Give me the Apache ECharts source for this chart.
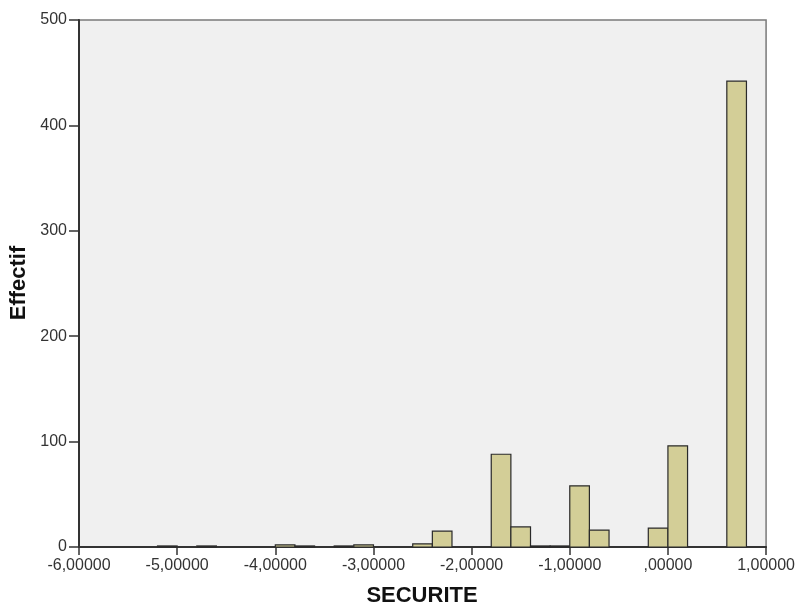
<!DOCTYPE html>
<html>
<head>
<meta charset="utf-8">
<script src="https://cdn.jsdelivr.net/npm/echarts@6/dist/echarts.min.js"></script>
<style>html,body{margin:0;padding:0;background:#fff}#c{width:798px;height:605px}</style>
</head>
<body>
<div id="c"></div>
<script>
var binLow  = [-5.2, -4.8, -4.0, -3.8, -3.4, -3.2, -2.6, -2.4, -1.8, -1.6, -1.4, -1.2, -1.0, -0.8, -0.2, 0.0, 0.6];
var binHigh = [-5.0, -4.6, -3.8, -3.6, -3.2, -3.0, -2.4, -2.2, -1.6, -1.4, -1.2, -1.0, -0.8, -0.6, 0.0, 0.2, 0.8];
var counts  = [1, 1, 2, 1, 1, 2, 3, 15, 88, 19, 1, 1, 58, 16, 18, 96, 442];
var xTicks = [-6, -5, -4, -3, -2, -1, 0, 1];
var yTicks = [0, 100, 200, 300, 400, 500];
var xTitle = 'SECURITE';
var yTitle = 'Effectif';

function fmtX(v){
  var s = Math.abs(v).toFixed(5).replace('.', ',');
  if (Math.abs(v) < 1e-9) s = s.replace(/^0/, '');
  return (v < -1e-9 ? '-' : '') + s;
}

var data = binLow.map(function(l, i){ return [l, binHigh[i], counts[i]]; });

var chart = echarts.init(document.getElementById('c'), null, {renderer:'canvas'});
chart.setOption({
  animation: false,
  backgroundColor: '#ffffff',
  grid: {left: 79, right: 31, top: 20, bottom: 58, show: true, backgroundColor: '#f0f0f0', borderColor: '#7a7a7a', borderWidth: 1.5},
  xAxis: {
    type: 'value', min: xTicks[0], max: xTicks[xTicks.length-1], interval: 1,
    axisLine: {onZero: false, lineStyle: {color: '#333', width: 2}},
    axisTick: {show: true, length: 8, lineStyle: {color: '#333', width: 1.5}},
    axisLabel: {formatter: fmtX, color: '#333', fontFamily: 'Liberation Sans, Arial', fontSize: 16, margin: 11},
    splitLine: {show: false}
  },
  yAxis: {
    type: 'value', min: yTicks[0], max: yTicks[yTicks.length-1], interval: 100,
    axisLine: {show: true, onZero: false, lineStyle: {color: '#333', width: 2}},
    axisTick: {show: true, length: 10, lineStyle: {color: '#333', width: 1.5}},
    axisLabel: {color: '#333', fontFamily: 'Liberation Sans, Arial', fontSize: 16, margin: 12},
    splitLine: {show: false}
  },
  graphic: [
    {type: 'text', x: 422, y: 596, style: {text: xTitle, font: 'bold 22px "Liberation Sans", Arial', fill: '#111', align: 'center', verticalAlign: 'middle'}},
    {type: 'text', x: 19, y: 283, rotation: Math.PI/2, style: {text: yTitle, font: 'bold 22px "Liberation Sans", Arial', fill: '#111', align: 'center', verticalAlign: 'middle'}}
  ],
  series: [{
    type: 'custom',
    data: data,
    encode: {x: [0, 1], y: 2},
    renderItem: function(params, api){
      var p0 = api.coord([api.value(0), api.value(2)]);
      var p1 = api.coord([api.value(1), 0]);
      return {
        type: 'rect',
        shape: {x: p0[0], y: p0[1], width: p1[0] - p0[0], height: p1[1] - p0[1]},
        style: {fill: '#d3ce97', stroke: '#2a2a2a', lineWidth: 1.2}
      };
    }
  }]
});
</script>
</body>
</html>
